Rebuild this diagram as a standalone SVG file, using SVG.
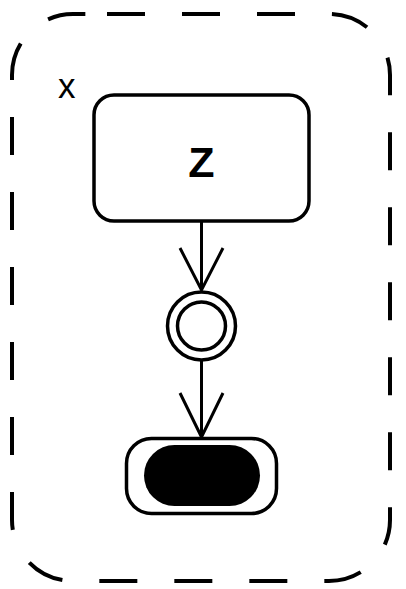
<svg xmlns="http://www.w3.org/2000/svg" width="406" height="589" viewBox="0 0 406 589">
<style>
.frame{fill:none;stroke:#000;stroke-width:4;stroke-dasharray:38 37;stroke-dashoffset:56}
.shape{fill:#fff;stroke:#000;stroke-width:3.5}
.edge{fill:none;stroke:#000;stroke-width:3}
.lbl{font-family:"Liberation Sans",Arial,sans-serif;fill:#000}
</style>
<rect width="406" height="589" fill="#fff"/>
<g id="partition-x">
<path class="frame" d="M88 14 H329 A61 61 0 0 1 390 75 V520 A61 61 0 0 1 329 581 H73 A61 61 0 0 1 12 520 V75 A61 61 0 0 1 73 14 Z"/>
<text class="lbl" x="58" y="98" font-size="35">x</text>
</g>
<g id="connectors">
<path class="edge" d="M201.5 221 V290"/>
<path class="edge" d="M180 248 L201.5 290 L223 248"/>
<path class="edge" d="M201.5 361 V437"/>
<path class="edge" d="M180 393 L201.5 437 L223 393"/>
</g>
<g id="node-z">
<rect class="shape" x="94" y="95" width="215" height="126" rx="20"/>
<text class="lbl" x="201.5" y="177" font-size="43" font-weight="bold" text-anchor="middle">Z</text>
</g>
<g id="merge">
<circle class="shape" cx="201.5" cy="326" r="34"/>
<circle class="shape" cx="201.5" cy="326" r="24"/>
</g>
<g id="final">
<rect class="shape" x="126.5" y="438.5" width="150" height="75" rx="25"/>
<rect x="144" y="445" width="116" height="61" rx="30.5" fill="#000"/>
</g>
</svg>
